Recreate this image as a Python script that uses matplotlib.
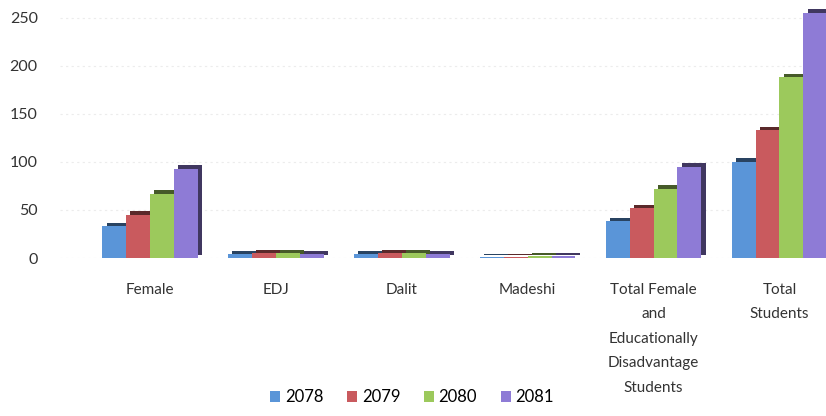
import numpy as np
import matplotlib
matplotlib.use("Agg")
import matplotlib.pyplot as plt
from matplotlib.colors import to_rgb

plt.rcParams['font.family'] = ['Lato', 'DejaVu Sans']

categories = ["Female", "EDJ", "Dalit", "Madeshi",
              "Total Female\nand\nEducationally\nDisadvantage\nStudents",
              "Total\nStudents"]
years = ["2078", "2079", "2080", "2081"]
v2078 = [33, 4, 4, 1, 38, 100]
v2079 = [45, 5, 5, 1, 52, 133]
v2080 = [67, 5, 5, 2, 72, 188]
v2081 = [93, 4, 4, 2, 95, 255]
series = [v2078, v2079, v2080, v2081]
colors = ["#5A95D8", "#C95A5E", "#9CC95C", "#8E7BD6"]

def darker(c, f=0.45):
    r, g, b = to_rgb(c)
    return (r * f, g * f, b * f)

fig = plt.figure(figsize=(8.26, 4.16), dpi=100)
ax = fig.add_axes([60 / 826, 158 / 416, 766 / 826, 253 / 416])

x = np.arange(len(categories))
w = 0.19
dx, dy = 0.035, 3.5
for i, (vals, col) in enumerate(zip(series, colors)):
    pos = x + (i - 1.5) * w
    ax.bar(pos + dx, vals, w, bottom=dy, color=darker(col), zorder=2 + 2 * i)
    ax.bar(pos, vals, w, color=col, zorder=3 + 2 * i, label=years[i])

ax.set_xlim(-0.715, 5.37)
ax.set_ylim(0, 263)
ax.set_yticks([0, 50, 100, 150, 200, 250])
ax.yaxis.grid(True, color="#ececec", linestyle=(0, (2, 3)), linewidth=0.8)
ax.set_axisbelow(True)
for s in ax.spines.values():
    s.set_visible(False)
ax.tick_params(axis="y", length=0, labelsize=11.5, colors="#333333", pad=16)
ax.set_xticks(x)
ax.set_xticklabels(categories, fontsize=11, color="#333333", linespacing=1.95,
                   va="top")
ax.tick_params(axis="x", length=0, pad=18)

leg = fig.legend(loc="lower center", bbox_to_anchor=(412 / 826, -0.01), ncol=4,
                 frameon=False, fontsize=12, handlelength=0.6, handleheight=0.6,
                 handletextpad=0.3, columnspacing=1.4)

fig.savefig("out.png", dpi=100, facecolor="white")
